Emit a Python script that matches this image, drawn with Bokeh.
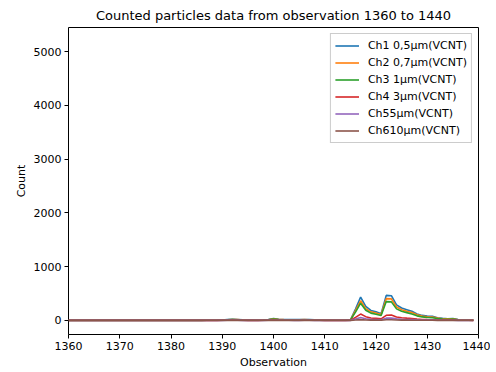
from bokeh.plotting import figure
from bokeh.models import Range1d, Legend, LegendItem, FixedTicker
from bokeh.embed import file_html
from bokeh.resources import INLINE

observation = list(range(1360, 1440))

ch1 = [2, 2, 2, 2, 2, 2, 2, 2, 2, 2,
       2, 2, 2, 2, 2, 2, 2, 2, 2, 2,
       2, 2, 2, 2, 2, 2, 2, 3, 3, 5,
       8, 15, 22, 18, 10, 6, 5, 4, 8, 15,
       35, 22, 18, 16, 14, 15, 18, 16, 12, 8,
       6, 5, 4, 4, 5, 8, 210, 435, 260, 186,
       160, 125, 466, 460, 290, 230, 200, 170, 120, 93,
       80, 75, 50, 38, 32, 35, 15, 10, 8, 6]
ch2 = [2, 2, 2, 2, 2, 2, 2, 2, 2, 2,
       2, 2, 2, 2, 2, 2, 2, 2, 2, 2,
       2, 2, 2, 2, 2, 2, 2, 2, 3, 4,
       6, 12, 18, 15, 8, 5, 4, 3, 7, 12,
       28, 18, 15, 13, 12, 12, 15, 13, 10, 7,
       5, 4, 3, 3, 4, 7, 180, 365, 220, 160,
       138, 108, 405, 400, 250, 200, 172, 146, 104, 80,
       68, 62, 42, 32, 28, 30, 12, 8, 7, 5]
ch3 = [1, 1, 1, 1, 1, 1, 1, 1, 1, 1,
       1, 1, 1, 1, 1, 1, 1, 1, 1, 1,
       1, 1, 1, 1, 1, 1, 1, 2, 2, 3,
       5, 10, 16, 13, 7, 4, 3, 3, 6, 10,
       24, 15, 13, 11, 10, 10, 13, 11, 8, 6,
       4, 3, 3, 3, 3, 6, 155, 320, 190, 135,
       115, 92, 350, 345, 215, 170, 145, 120, 85, 65,
       55, 50, 34, 26, 22, 25, 10, 7, 5, 4]
ch4 = [0, 0, 0, 0, 0, 0, 0, 0, 0, 0,
       0, 0, 0, 0, 0, 0, 0, 0, 0, 0,
       0, 0, 0, 0, 0, 0, 0, 1, 1, 1,
       2, 3, 5, 4, 2, 1, 1, 1, 2, 3,
       7, 4, 4, 3, 3, 3, 4, 3, 2, 2,
       1, 1, 1, 1, 1, 2, 55, 118, 70, 45,
       38, 30, 95, 100, 65, 50, 42, 35, 25, 18,
       15, 13, 9, 7, 6, 6, 3, 2, 2, 1]
ch5 = [0, 0, 0, 0, 0, 0, 0, 0, 0, 0,
       0, 0, 0, 0, 0, 0, 0, 0, 0, 0,
       0, 0, 0, 0, 0, 0, 0, 0, 0, 1,
       1, 2, 3, 2, 1, 1, 0, 0, 1, 2,
       4, 2, 2, 2, 1, 1, 2, 2, 1, 1,
       0, 0, 0, 0, 1, 1, 25, 55, 32, 20,
       17, 13, 42, 45, 28, 22, 18, 15, 11, 8,
       7, 6, 4, 3, 3, 3, 1, 1, 1, 0]
ch6 = [0, 0, 0, 0, 0, 0, 0, 0, 0, 0,
       0, 0, 0, 0, 0, 0, 0, 0, 0, 0,
       0, 0, 0, 0, 0, 0, 0, 0, 0, 0,
       0, 1, 1, 1, 0, 0, 0, 0, 0, 1,
       1, 1, 1, 1, 0, 0, 1, 1, 0, 0,
       0, 0, 0, 0, 0, 0, 7, 15, 9, 6,
       5, 4, 12, 13, 8, 6, 5, 4, 3, 2,
       2, 2, 1, 1, 1, 1, 0, 0, 0, 0]

labels = ["Ch1 0,5µm(VCNT)", "Ch2 0,7µm(VCNT)", "Ch3 1µm(VCNT)",
          "Ch4 3µm(VCNT)", "Ch55µm(VCNT)", "Ch610µm(VCNT)"]
colors = ["#1f77b4", "#ff7f0e", "#2ca02c", "#d62728", "#9467bd", "#8c564b"]
x_ticks = [1360, 1370, 1380, 1390, 1400, 1410, 1420, 1430, 1440]
y_ticks = [0, 1000, 2000, 3000, 4000, 5000]

FONT = "DejaVu Sans"
TXT = "#000000"

p = figure(width=490, height=371, output_backend="svg", toolbar_location=None,
           x_range=Range1d(1360, 1440), y_range=Range1d(-262, 5448),
           title="Counted particles data from observation 1360 to 1440",
           min_border_left=68, min_border_right=12, min_border_top=16, min_border_bottom=33)

p.title.align = "center"
p.title.text_font = FONT
p.title.text_font_size = "13px"
p.title.text_font_style = "normal"
p.title.text_color = TXT

p.grid.visible = False
p.outline_line_color = "black"
p.outline_line_width = 1
p.outline_line_alpha = 1

for ax in (p.xaxis[0], p.yaxis[0]):
    ax.axis_line_color = None
    ax.major_tick_in = 0
    ax.major_tick_out = 4
    ax.minor_tick_out = 0
    ax.minor_tick_in = 0
    ax.major_label_text_font = FONT
    ax.major_label_text_font_size = "11px"
    ax.major_label_text_color = TXT
    ax.axis_label_text_font = FONT
    ax.axis_label_text_font_size = "11px"
    ax.axis_label_text_font_style = "normal"
    ax.axis_label_text_color = TXT
    ax.major_label_standoff = 3
    ax.axis_label_standoff = 3

p.xaxis.ticker = FixedTicker(ticks=x_ticks)
p.yaxis.ticker = FixedTicker(ticks=y_ticks)
p.xaxis.axis_label = "Observation"
p.yaxis.axis_label = "Count"

series = [ch1, ch2, ch3, ch4, ch5, ch6]
items = []
for data, lab, col in zip(series, labels, colors):
    r = p.line(observation, data, line_color=col, line_width=1.6)
    items.append(LegendItem(label=lab, renderers=[r]))

legend = Legend(items=items, location="top_right")
legend.label_text_font = FONT
legend.label_text_font_size = "11px"
legend.label_text_color = TXT
legend.border_line_color = "#cccccc"
legend.border_line_alpha = 1
legend.background_fill_alpha = 0.8
legend.glyph_width = 24
legend.glyph_height = 15
legend.label_height = 15
legend.spacing = 2
legend.padding = 4
legend.margin = 6
legend.label_standoff = 9
p.add_layout(legend)

open("out.html", "w").write(file_html(p, INLINE))
